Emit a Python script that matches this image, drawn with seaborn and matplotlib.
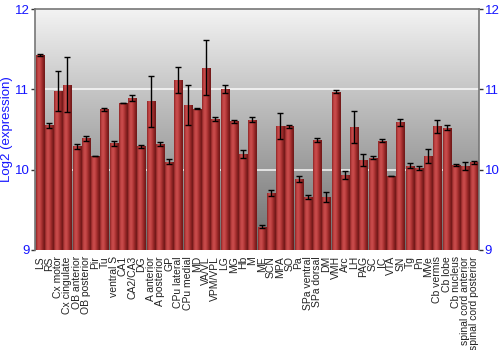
import numpy as np
import pandas as pd
import matplotlib
matplotlib.use("Agg")
import matplotlib.pyplot as plt
import seaborn as sns
from matplotlib.colors import LinearSegmentedColormap

regions = ["LS", "RS", "Cx motor", "Cx cingulate", "OB anterior", "OB posterior", "Pir", "Tu",
           "ventral S", "CA1", "CA2/CA3", "DG", "A anterior", "A posterior", "GP", "CPu lateral",
           "CPu medial", "MD", "VA/VL", "VPM/VPL", "LG", "MG", "Hb", "M", "ME", "SCN", "MPA", "SO",
           "Pa", "SPa ventral", "SPa dorsal", "DM", "VMH", "Arc", "LH", "PAG", "SC", "IC", "VTA",
           "SN", "Tg", "Pn", "MVe", "Cb vermis", "Cb lobe", "Cb nucleus",
           "spinal cord anterior", "spinal cord posterior"]
expression = [11.43, 10.55, 10.98, 11.06, 10.29, 10.39, 10.17, 10.75,
              10.33, 10.83, 10.89, 10.29, 10.85, 10.32, 10.10, 11.12,
              10.81, 10.76, 11.27, 10.63, 11.01, 10.60, 10.19, 10.62, 9.29, 9.71, 10.54, 10.54,
              9.88, 9.66, 10.37, 9.66, 10.97, 9.93, 10.53, 10.12, 10.15, 10.36, 9.92,
              10.59, 10.05, 10.02, 10.17, 10.54, 10.52, 10.06,
              10.05, 10.09]
error = [0.01, 0.035, 0.25, 0.34, 0.03, 0.03, 0.005, 0.02,
         0.03, 0.005, 0.04, 0.02, 0.32, 0.03, 0.03, 0.16,
         0.25, 0.01, 0.34, 0.02, 0.05, 0.02, 0.05, 0.03, 0.02, 0.04, 0.16, 0.02,
         0.04, 0.03, 0.02, 0.06, 0.02, 0.05, 0.2, 0.075, 0.02, 0.02, 0.005,
         0.045, 0.03, 0.02, 0.09, 0.08, 0.03, 0.01,
         0.05, 0.02]

df = pd.DataFrame({"region": regions, "expression": expression, "error": error})

sns.set_style("white")
plt.rcParams["font.family"] = ["Liberation Sans", "DejaVu Sans"]
fig = plt.figure(figsize=(5, 3.5), dpi=100)
ax = fig.add_axes([0.07, 0.286, 0.888, 0.688])

ymin, ymax = 9, 12
n = len(regions)

sns.barplot(data=df, x="region", y="expression", ax=ax, color="#b03030",
            width=0.88, errorbar=None, zorder=2)
ax.set_ylim(ymin, ymax)
ax.set_xlim(-0.5, n - 0.5)

# background gradient
bg_cmap = LinearSegmentedColormap.from_list(
    "bg", [(0, "#f3f3f3"), (1/3, "#c6c6c6"), (2/3, "#9a9a9a"), (1, "#6c6c6c")])
grad = np.linspace(0, 1, 256).reshape(-1, 1)
ax.imshow(grad, aspect="auto", cmap=bg_cmap, extent=(-0.5, n - 0.5, ymin, ymax),
          origin="upper", zorder=0, interpolation="bilinear")

# gradient on bars
bar_cmap = LinearSegmentedColormap.from_list(
    "bar", ["#8a2424", "#c44646", "#c94c4c", "#b03636", "#8a2222", "#6e1818"])
hgrad = np.linspace(0, 1, 64).reshape(1, -1)
for p in ax.patches:
    x0 = p.get_x()
    w = p.get_width()
    h = p.get_height()
    im = ax.imshow(hgrad, aspect="auto", cmap=bar_cmap, extent=(x0, x0 + w, ymin, h),
                   zorder=2.5, interpolation="bilinear")
    im.set_clip_path(p)
    p.set_edgecolor("#7a2020")
    p.set_linewidth(0.4)

ax.errorbar(np.arange(n), df["expression"], yerr=df["error"], fmt="none",
            ecolor="black", elinewidth=1, capsize=2.2, capthick=1, zorder=4)

for yv in [10, 11]:
    ax.axhline(yv, color="white", lw=1.2, alpha=0.85, zorder=1)

ax.set_yticks([9, 10, 11, 12])
ax.tick_params(axis="y", which="both", left=True, right=True, labelleft=True, labelright=True,
               labelcolor="#1414ff", labelsize=9.5, length=3, width=1, color="#333333",
               direction="out", pad=1)
ax.tick_params(axis="x", bottom=False, labelsize=7.5, labelcolor="#222222", pad=1)
ax.set_xticks(np.arange(n))
ax.set_xticklabels(regions, rotation=90)
ax.set_xlabel("")
ax.set_ylabel("Log2 (expression)", color="#1414ff", fontsize=9.5, labelpad=1)

for s in ["left", "right", "top"]:
    ax.spines[s].set_color("#777777")
    ax.spines[s].set_linewidth(1.2)
ax.spines["bottom"].set_visible(False)

fig.savefig("out.png", dpi=100)
